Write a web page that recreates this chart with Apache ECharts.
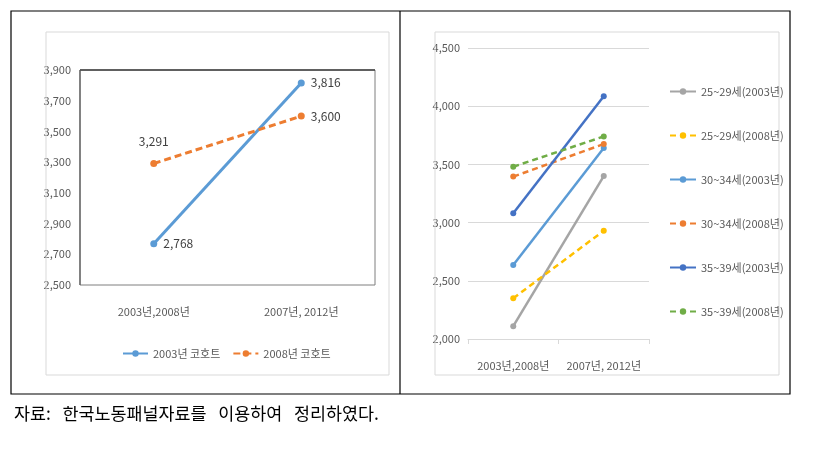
<!DOCTYPE html>
<html><head><meta charset="utf-8">
<script src="https://cdn.jsdelivr.net/npm/echarts@6/dist/echarts.min.js"></script>
<style>html,body{margin:0;padding:0;background:#fff}#c{width:816px;height:450px}</style>
</head><body><div id="c"></div>
<script>
// ---- data ----
const categories = ['2003년,2008년', '2007년, 2012년'];
const leftNames = ['2003년 코호트', '2008년 코호트'];
const cohort2003 = [2768, 3816];
const cohort2008 = [3291, 3600];
const leftTicks = [2500, 2700, 2900, 3100, 3300, 3500, 3700, 3900];

const rightNames = ['25~29세(2003년)', '25~29세(2008년)', '30~34세(2003년)', '30~34세(2008년)', '35~39세(2003년)', '35~39세(2008년)'];
const age25_29_2003 = [2110, 3400];
const age25_29_2008 = [2350, 2930];
const age30_34_2003 = [2635, 3640];
const age30_34_2008 = [3395, 3675];
const age35_39_2003 = [3080, 4085];
const age35_39_2008 = [3480, 3740];
const rightTicks = [2000, 2500, 3000, 3500, 4000, 4500];
const caption = '자료:   한국노동패널자료를   이용하여   정리하였다.';

// ---- render ----
const FONT = '"Noto Sans CJK KR", "Noto Sans", sans-serif';
const fmt = v => Number(v).toLocaleString('en-US');
const chart = echarts.init(document.getElementById('c'), null, {renderer: 'canvas'});

const rightData = [age25_29_2003, age25_29_2008, age30_34_2003, age30_34_2008, age35_39_2003, age35_39_2008];
const rightColors = ['#A5A5A5', '#FFC000', '#5B9BD5', '#ED7D31', '#4472C4', '#70AD47'];
const rightDashed = [false, true, false, true, false, true];

const labelStyle = {color: '#404040', fontSize: 12, fontFamily: FONT};

const series = [
  {
    name: leftNames[0], type: 'line', xAxisIndex: 0, yAxisIndex: 0,
    data: cohort2003, symbol: 'circle', symbolSize: 7,
    itemStyle: {color: '#5B9BD5'}, lineStyle: {width: 3, color: '#5B9BD5'},
    label: Object.assign({show: true, position: 'right', distance: 6, formatter: p => fmt(p.value)}, labelStyle)
  },
  {
    name: leftNames[1], type: 'line', xAxisIndex: 0, yAxisIndex: 0,
    data: cohort2008.map((v, i) => i === 0
      ? {value: v, label: {position: 'top', distance: 13}}
      : {value: v}),
    symbol: 'circle', symbolSize: 7,
    itemStyle: {color: '#ED7D31'}, lineStyle: {width: 3, type: [7, 4], color: '#ED7D31'},
    label: Object.assign({show: true, position: 'right', distance: 6, formatter: p => fmt(p.value)}, labelStyle)
  }
];
rightData.forEach((d, i) => {
  series.push({
    name: rightNames[i], type: 'line', xAxisIndex: 1, yAxisIndex: 1,
    data: d, symbol: 'circle', symbolSize: 6,
    itemStyle: {color: rightColors[i]},
    lineStyle: {width: 2.5, color: rightColors[i], type: rightDashed[i] ? [6, 4] : 'solid'}
  });
});

const axisLabelStyle = {color: '#595959', fontSize: 11, fontFamily: FONT};

chart.setOption({
  backgroundColor: '#fff',
  animation: false,
  textStyle: {fontFamily: FONT},
  grid: [
    {left: 80, top: 70, width: 295, height: 215, show: true, borderColor: '#7f7f7f', borderWidth: 1, backgroundColor: 'transparent'},
    {left: 468, top: 48, width: 181, height: 291}
  ],
  xAxis: [
    {gridIndex: 0, type: 'category', data: categories, boundaryGap: true,
     axisLine: {show: false}, axisTick: {show: false},
     axisLabel: Object.assign({margin: 21, interval: 0}, axisLabelStyle)},
    {gridIndex: 1, type: 'category', data: categories, boundaryGap: true,
     axisLine: {show: true, lineStyle: {color: '#d9d9d9'}},
     axisTick: {show: true, length: 5, lineStyle: {color: '#d9d9d9'}},
     axisLabel: Object.assign({margin: 21, interval: 0, hideOverlap: false}, axisLabelStyle)}
  ],
  yAxis: [
    {gridIndex: 0, type: 'value', min: 2500, max: 3900,
     axisLine: {show: false}, axisTick: {show: false}, splitLine: {show: false},
     axisLabel: Object.assign({customValues: leftTicks, margin: 9, formatter: v => fmt(v)}, axisLabelStyle)},
    {gridIndex: 1, type: 'value', min: 2000, max: 4500, interval: 500,
     axisLine: {show: false}, axisTick: {show: false},
     splitLine: {show: true, lineStyle: {color: '#d9d9d9'}},
     axisLabel: Object.assign({margin: 8, formatter: v => fmt(v)}, axisLabelStyle)}
  ],
  legend: [
    {data: leftNames, left: 117, top: 343, itemWidth: 25, itemHeight: 8, itemGap: 12,
     textStyle: {color: '#595959', fontSize: 11, fontFamily: FONT}},
    {data: rightNames, orient: 'vertical', left: 664, top: 81, itemWidth: 26, itemHeight: 8, itemGap: 33,
     textStyle: {color: '#595959', fontSize: 11, fontFamily: FONT}}
  ],
  series: series,
  graphic: [
    {type: 'rect', shape: {x: 11, y: 11, width: 779, height: 383}, style: {fill: 'none', stroke: '#000', lineWidth: 1.2}, z: 10},
    {type: 'line', shape: {x1: 400, y1: 11, x2: 400, y2: 394}, style: {stroke: '#000', lineWidth: 1.2}, z: 10},
    {type: 'rect', shape: {x: 46, y: 32, width: 343, height: 343}, style: {fill: 'none', stroke: '#d9d9d9', lineWidth: 1}, z: 1},
    {type: 'rect', shape: {x: 435, y: 32, width: 344, height: 343}, style: {fill: 'none', stroke: '#d9d9d9', lineWidth: 1}, z: 1},
    {type: 'line', shape: {x1: 80, y1: 70, x2: 375, y2: 70}, style: {stroke: '#404040', lineWidth: 1.5}, z: 5},
    {type: 'line', shape: {x1: 80, y1: 70, x2: 80, y2: 285}, style: {stroke: '#595959', lineWidth: 1.2}, z: 5},
    {type: 'text', left: 14, top: 405, style: {text: caption, fill: '#000', fontSize: 17.4, fontFamily: FONT}, z: 10}
  ]
});
</script>
</body></html>
